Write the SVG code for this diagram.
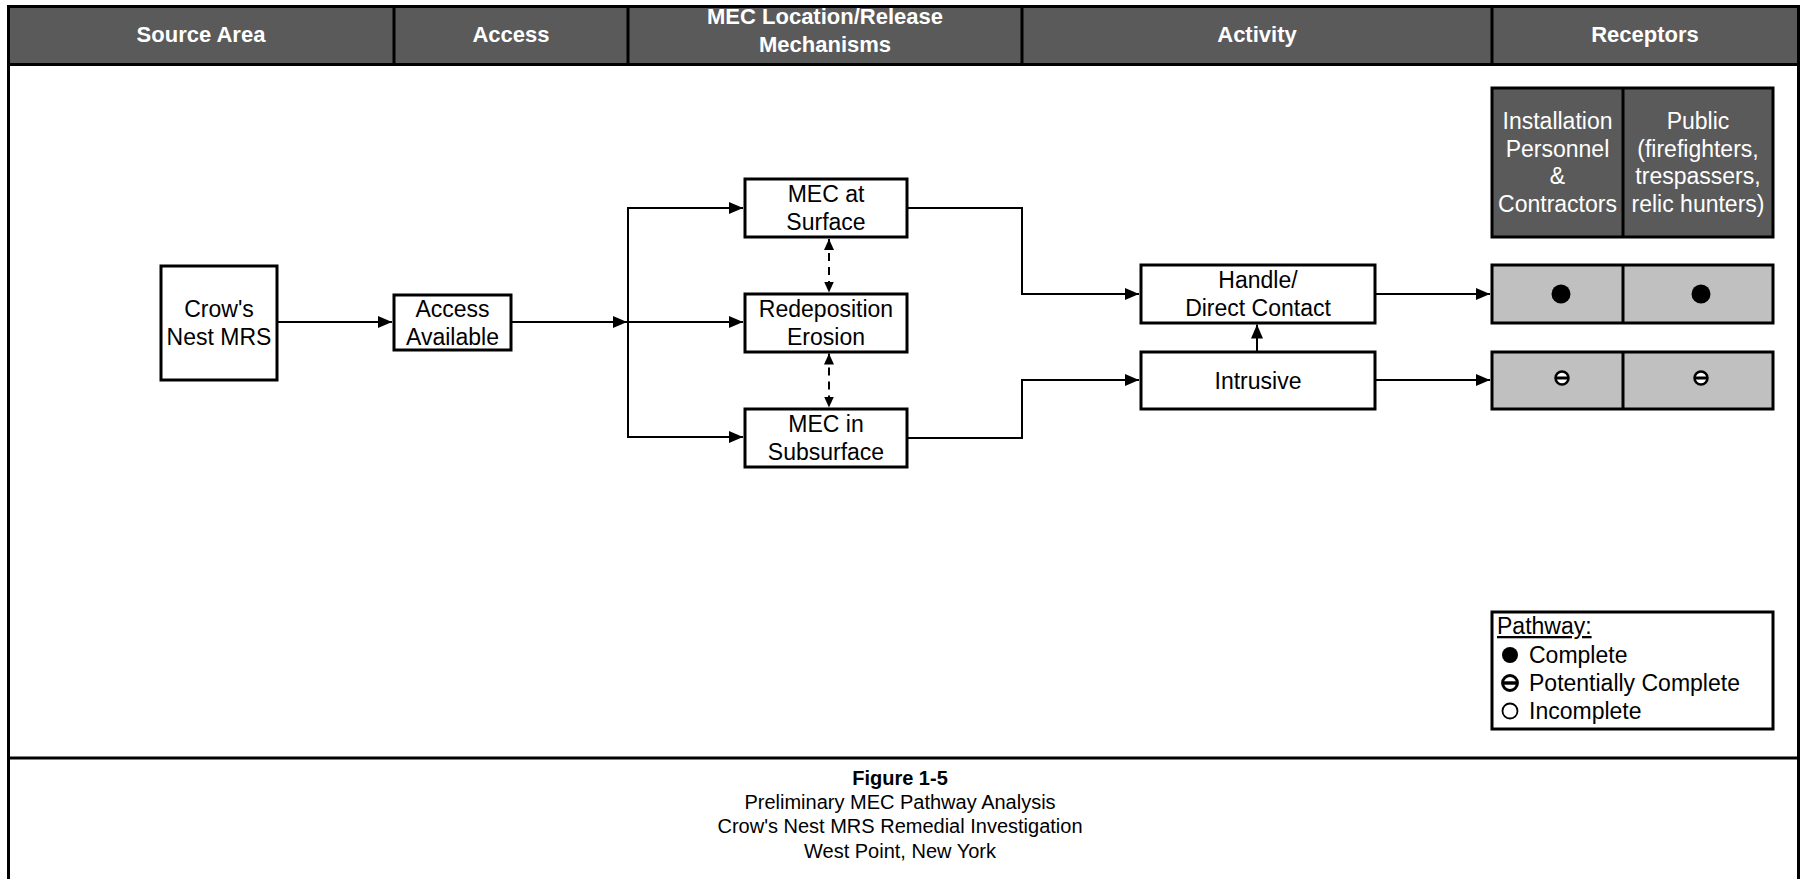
<svg xmlns="http://www.w3.org/2000/svg" width="1801" height="879" viewBox="0 0 1801 879">
  <style>
    text { font-family: "Liberation Sans", Arial, sans-serif; }
    .hdr { fill: #fff; font-size: 22px; font-weight: bold; text-anchor: middle; }
    .lbl { fill: #000; font-size: 23px; text-anchor: middle; }
    .rcp { fill: #fff; font-size: 23px; text-anchor: middle; }
    .leg { fill: #000; font-size: 23px; }
    .ftr { fill: #000; font-size: 20px; text-anchor: middle; }
    .box { fill: #fff; stroke: #000; stroke-width: 3; }
    .cell { fill: #c0c0c0; stroke: #000; stroke-width: 3; }
    .dark { fill: #5a5a5a; stroke: #000; stroke-width: 3; }
    .rule { stroke: #000; stroke-width: 3; fill: none; }
    .wire { stroke: #000; stroke-width: 2; fill: none; }
    .dash { stroke: #000; stroke-width: 2; fill: none; stroke-dasharray: 8 6; }
  </style>
  <defs>
    <marker id="arr" viewBox="0 0 14 12" refX="14" refY="6" markerWidth="14" markerHeight="12" markerUnits="userSpaceOnUse" orient="auto-start-reverse">
      <path d="M0,0 L14,6 L0,12 z" fill="#000"/>
    </marker>
    <marker id="arrs" viewBox="0 0 11 10" refX="11" refY="5" markerWidth="11" markerHeight="10" markerUnits="userSpaceOnUse" orient="auto-start-reverse">
      <path d="M0,0 L11,5 L0,10 z" fill="#000"/>
    </marker>
    <!-- potentially complete symbol: ring with a centre band -->
    <g id="pot">
      <circle r="6.5" fill="#fff" stroke="#000" stroke-width="2.5"/>
      <rect x="-6.5" y="-1.5" width="13" height="3" fill="#000"/>
    </g>
  </defs>

  <!-- frame and header band -->
  <g id="frame">
    <rect x="0" y="0" width="1801" height="879" fill="#fff"/>
    <rect x="8.5" y="6.5" width="1790" height="890" fill="#fff" stroke="#000" stroke-width="3"/>
    <rect x="8.5" y="6.5" width="1790" height="58" fill="#5a5a5a" stroke="#000" stroke-width="3"/>
    <line class="rule" x1="394" y1="6.5" x2="394" y2="64.5"/>
    <line class="rule" x1="628" y1="6.5" x2="628" y2="64.5"/>
    <line class="rule" x1="1022" y1="6.5" x2="1022" y2="64.5"/>
    <line class="rule" x1="1492" y1="6.5" x2="1492" y2="64.5"/>
    <line class="rule" x1="8.5" y1="758" x2="1798.5" y2="758"/>
    <text class="hdr" x="201" y="42">Source Area</text>
    <text class="hdr" x="511" y="42">Access</text>
    <text class="hdr" x="825" y="24">MEC Location/Release</text>
    <text class="hdr" x="825" y="52">Mechanisms</text>
    <text class="hdr" x="1257" y="42">Activity</text>
    <text class="hdr" x="1645" y="42">Receptors</text>
  </g>

  <!-- connectors -->
  <g id="connectors">
    <line class="wire" x1="277" y1="322" x2="392" y2="322" marker-end="url(#arr)"/>
    <line class="wire" x1="511" y1="322" x2="627" y2="322" marker-end="url(#arr)"/>
    <line class="wire" x1="628" y1="207" x2="628" y2="438"/>
    <line class="wire" x1="628" y1="208" x2="743" y2="208" marker-end="url(#arr)"/>
    <line class="wire" x1="628" y1="322" x2="743" y2="322" marker-end="url(#arr)"/>
    <line class="wire" x1="628" y1="437" x2="743" y2="437" marker-end="url(#arr)"/>
    <polyline class="wire" points="907,208 1022,208 1022,294 1139,294" marker-end="url(#arr)"/>
    <polyline class="wire" points="907,438 1022,438 1022,380 1139,380" marker-end="url(#arr)"/>
    <line class="wire" x1="1257" y1="352" x2="1257" y2="324.5" marker-end="url(#arr)"/>
    <line class="dash" x1="829" y1="239" x2="829" y2="292.5" marker-start="url(#arrs)" marker-end="url(#arrs)"/>
    <line class="dash" x1="829" y1="353.5" x2="829" y2="407.5" marker-start="url(#arrs)" marker-end="url(#arrs)"/>
    <line class="wire" x1="1375" y1="294" x2="1490" y2="294" marker-end="url(#arr)"/>
    <line class="wire" x1="1375" y1="380" x2="1490" y2="380" marker-end="url(#arr)"/>
  </g>

  <g id="crows-nest">
    <rect class="box" x="161" y="266" width="116" height="114"/>
    <text class="lbl" x="219" y="317">Crow's</text>
    <text class="lbl" x="219" y="345">Nest MRS</text>
  </g>

  <g id="access-available">
    <rect class="box" x="394" y="295" width="117" height="55"/>
    <text class="lbl" x="452.5" y="316.5">Access</text>
    <text class="lbl" x="452.5" y="344.5">Available</text>
  </g>

  <g id="mec-surface">
    <rect class="box" x="745" y="179" width="162" height="58"/>
    <text class="lbl" x="826" y="202">MEC at</text>
    <text class="lbl" x="826" y="230">Surface</text>
  </g>

  <g id="redeposition">
    <rect class="box" x="745" y="294" width="162" height="58"/>
    <text class="lbl" x="826" y="317">Redeposition</text>
    <text class="lbl" x="826" y="345">Erosion</text>
  </g>

  <g id="mec-subsurface">
    <rect class="box" x="745" y="409" width="162" height="58"/>
    <text class="lbl" x="826" y="432">MEC in</text>
    <text class="lbl" x="826" y="460">Subsurface</text>
  </g>

  <g id="handle">
    <rect class="box" x="1141" y="265" width="234" height="58"/>
    <text class="lbl" x="1258" y="288">Handle/</text>
    <text class="lbl" x="1258" y="316">Direct Contact</text>
  </g>

  <g id="intrusive">
    <rect class="box" x="1141" y="352" width="234" height="57"/>
    <text class="lbl" x="1258" y="388.5">Intrusive</text>
  </g>

  <g id="receptor-header">
    <rect class="dark" x="1492" y="88" width="281" height="149"/>
    <line class="rule" x1="1623" y1="88" x2="1623" y2="237"/>
    <text class="rcp" x="1557.5" y="129">Installation</text>
    <text class="rcp" x="1557.5" y="157">Personnel</text>
    <text class="rcp" x="1557.5" y="184">&amp;</text>
    <text class="rcp" x="1557.5" y="212">Contractors</text>
    <text class="rcp" x="1698" y="129">Public</text>
    <text class="rcp" x="1698" y="157">(firefighters,</text>
    <text class="rcp" x="1698" y="184">trespassers,</text>
    <text class="rcp" x="1698" y="212">relic hunters)</text>
  </g>

  <g id="receptor-handle">
    <rect class="cell" x="1492" y="265" width="281" height="58"/>
    <line class="rule" x1="1623" y1="265" x2="1623" y2="323"/>
    <circle cx="1561" cy="294" r="9.5" fill="#000"/>
    <circle cx="1701" cy="294" r="9.5" fill="#000"/>
  </g>

  <g id="receptor-intrusive">
    <rect class="cell" x="1492" y="352" width="281" height="57"/>
    <line class="rule" x1="1623" y1="352" x2="1623" y2="409"/>
    <use href="#pot" x="1562" y="378"/>
    <use href="#pot" x="1701" y="378"/>
  </g>

  <g id="legend">
    <rect class="box" x="1492" y="612" width="281" height="117"/>
    <text class="leg" x="1497" y="634" text-decoration="underline">Pathway:</text>
    <circle cx="1510" cy="655" r="8" fill="#000"/>
    <text class="leg" x="1529" y="663">Complete</text>
    <use href="#pot" x="1510" y="683" transform="translate(1510 683) scale(1.15) translate(-1510 -683)"/>
    <text class="leg" x="1529" y="691">Potentially Complete</text>
    <circle cx="1510" cy="711" r="7.5" fill="#fff" stroke="#000" stroke-width="1.8"/>
    <text class="leg" x="1529" y="719">Incomplete</text>
  </g>

  <g id="caption">
    <text class="ftr" x="900" y="785" font-weight="bold">Figure 1-5</text>
    <text class="ftr" x="900" y="809">Preliminary MEC Pathway Analysis</text>
    <text class="ftr" x="900" y="833">Crow's Nest MRS Remedial Investigation</text>
    <text class="ftr" x="900" y="858">West Point, New York</text>
  </g>
</svg>
